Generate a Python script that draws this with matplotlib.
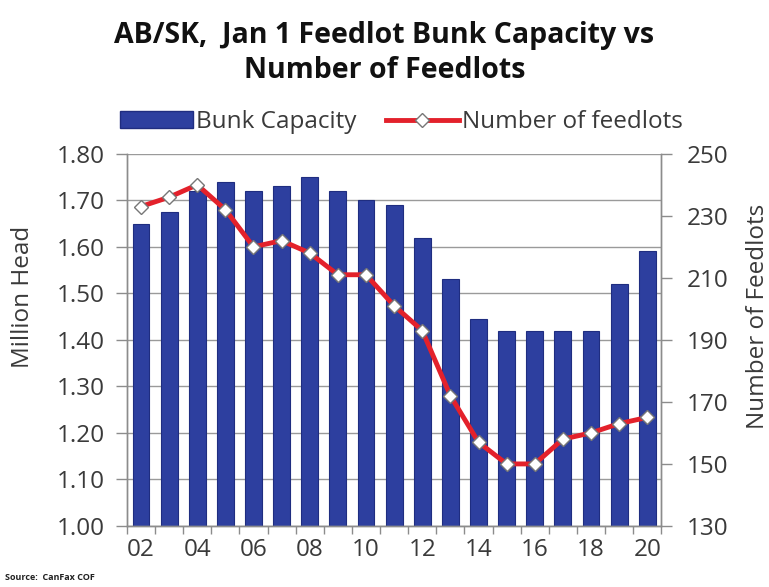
import numpy as np
import matplotlib
matplotlib.use('Agg')
import matplotlib.pyplot as plt
from matplotlib.lines import Line2D
from matplotlib.patches import Patch

plt.rcParams['font.family'] = ['Open Sans', 'DejaVu Sans']

years = ['02', '03', '04', '05', '06', '07', '08', '09', '10', '11',
         '12', '13', '14', '15', '16', '17', '18', '19', '20']
bunk_capacity = [1.65, 1.675, 1.72, 1.74, 1.72, 1.73, 1.75, 1.72, 1.70, 1.69,
                 1.62, 1.53, 1.445, 1.42, 1.42, 1.42, 1.42, 1.52, 1.59]
num_feedlots = [233, 236, 240, 232, 220, 222, 218, 211, 211, 201,
                193, 172, 157, 150, 150, 158, 160, 163, 165]

bar_color = '#2d3f9f'
line_color = '#e3212b'
axis_grey = '#8c8c8c'
text_color = '#3a3a3a'
label_size = 17.5

x = np.arange(len(years))

fig = plt.figure(figsize=(7.69, 5.87), dpi=100)
ax = fig.add_axes([0.165, 0.104, 0.695, 0.634])
ax2 = ax.twinx()

ax.bar(x, bunk_capacity, width=0.6, color=bar_color, edgecolor='#1f2d80',
       linewidth=0.8, zorder=2)
ax.set_ylim(1.0, 1.8)
ax.set_yticks(np.arange(1.0, 1.81, 0.1))
ax.set_yticklabels([f'{v:.2f}' for v in np.arange(1.0, 1.81, 0.1)])
ax.yaxis.grid(True, color='#9a9a9a', linewidth=1.0, zorder=0)
ax.set_axisbelow(True)
ax.set_xlim(-0.5, len(years) - 0.5)

# labels every other year, tick marks between categories
ax.set_xticks(x[::2])
ax.set_xticklabels(years[::2])
ax.set_xticks(np.arange(-0.5, len(years), 1), minor=True)
ax.tick_params(axis='x', which='major', length=0, pad=9)
ax.tick_params(axis='x', which='minor', length=6, color=axis_grey, width=1)
ax.tick_params(axis='y', length=8, color=axis_grey, width=1, pad=8)
ax.tick_params(labelsize=label_size, labelcolor=text_color)

ax2.plot(x, num_feedlots, color=line_color, linewidth=3.5, marker='D',
         markersize=7, markerfacecolor='white', markeredgecolor='#777777',
         markeredgewidth=1.0, zorder=3)
ax2.set_ylim(130, 250)
ax2.set_yticks(np.arange(130, 251, 20))
ax2.tick_params(axis='y', length=8, color=axis_grey, width=1, pad=10,
                labelsize=label_size, labelcolor=text_color)

for a in (ax, ax2):
    a.spines['top'].set_visible(False)
    for side in ('left', 'right', 'bottom'):
        a.spines[side].set_color(axis_grey)
        a.spines[side].set_linewidth(1.0)

ax.set_ylabel('Million Head', fontsize=label_size, color=text_color)
ax.yaxis.set_label_coords(-0.172, 0.616)
ax2.set_ylabel('Number of Feedlots', fontsize=label_size, color=text_color)
ax2.yaxis.set_label_coords(1.158, 0.562)

fig.text(0.5, 0.927, 'AB/SK,  Jan 1 Feedlot Bunk Capacity vs',
         ha='center', va='baseline', fontsize=20.5, fontweight='bold',
         color='#111111')
fig.text(0.5, 0.867, 'Number of Feedlots',
         ha='center', va='baseline', fontsize=20.5, fontweight='bold',
         color='#111111')

handles = [Patch(facecolor=bar_color, edgecolor='#1f2d80'),
           Line2D([0], [0], color=line_color, linewidth=3.5, marker='D',
                  markersize=7, markerfacecolor='white',
                  markeredgecolor='#777777')]
fig.legend(handles, ['Bunk Capacity', 'Number of feedlots'],
           loc='center', bbox_to_anchor=(0.522, 0.792), ncol=2,
           frameon=False, fontsize=label_size, handlelength=3.0,
           handletextpad=0.15, columnspacing=1.2, labelcolor=text_color)

fig.text(0.007, 0.012, 'Source:  CanFax COF', fontsize=6.5,
         fontweight='bold', color='#222222')

fig.savefig('out.png', dpi=100)
